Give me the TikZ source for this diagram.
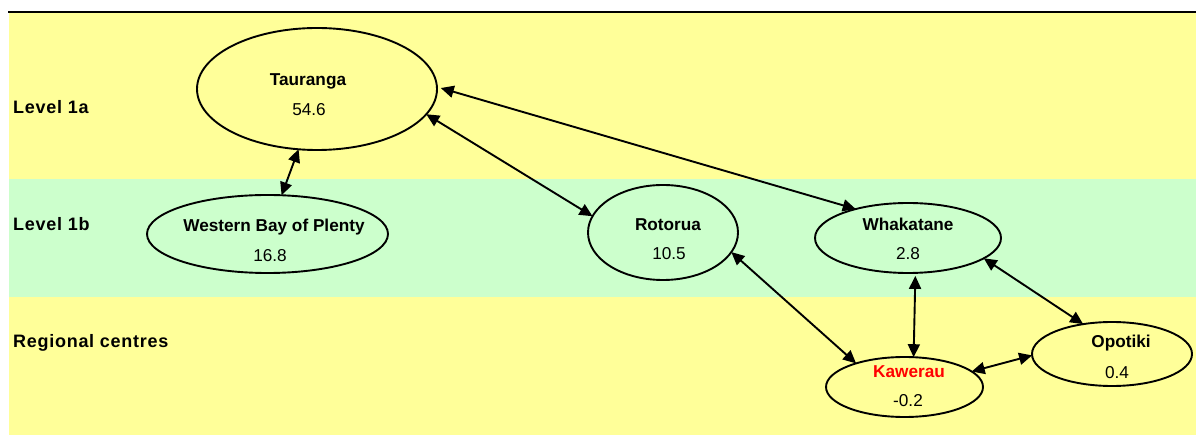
\documentclass[tikz,border=0pt]{standalone}
\usepackage{fontspec}
\setmainfont{Liberation Sans}
\usetikzlibrary{shapes.geometric,arrows.meta}
\definecolor{bandyellow}{HTML}{FFFF99}
\definecolor{bandgreen}{HTML}{CCFFCC}
\definecolor{alertred}{HTML}{FF0000}
\begin{document}
\begin{tikzpicture}[x=1pt,y=-1pt,
  city/.style={ellipse,draw=black,line width=1.9pt,inner sep=0pt,outer sep=0pt},
  cityname/.style={anchor=base,inner sep=0pt,font=\fontsize{17.2}{20}\selectfont\bfseries},
  cityvalue/.style={anchor=base,inner sep=0pt,font=\fontsize{17.2}{20}\selectfont},
  levellabel/.style={anchor=base west,inner sep=0pt,
    font=\fontsize{18}{20}\selectfont\bfseries\addfontfeature{LetterSpace=4}},
  link/.style={line width=1.9pt,{Triangle[length=13pt,width=12pt]}-{Triangle[length=13pt,width=12pt]}}
]
\useasboundingbox (0,0) rectangle (1196,435);
\fill[white] (0,0) rectangle (1196,435);

% level bands
\fill[bandyellow] (9,13) rectangle (1196,435);
\fill[bandgreen] (9,179) rectangle (1196,297);
\draw[line width=2pt] (8,12) -- (1196,12);

% band titles
\node[levellabel] (l1a) at (13,114) {Level 1a};
\node[levellabel] (l1b) at (13,231) {Level 1b};
\node[levellabel] (lrc) at (13,348) {Regional centres};

% centres
\node[city,fill=bandyellow,minimum width=240pt,minimum height=122pt] (tau) at (317,89) {};
\node[city,fill=bandgreen,minimum width=241pt,minimum height=78pt] (wbop) at (267.5,234) {};
\node[city,fill=bandgreen,minimum width=150pt,minimum height=95pt] (rot) at (663,232.5) {};
\node[city,fill=bandgreen,minimum width=186pt,minimum height=70pt] (wha) at (908,238) {};
\node[city,fill=bandyellow,minimum width=160pt,minimum height=64pt] (opo) at (1112,354) {};
\node[city,fill=bandyellow,minimum width=157pt,minimum height=60pt] (kaw) at (904.5,387) {};

\node[cityname] at (308,86) {Tauranga};
\node[cityvalue] at (309,116) {54.6};
\node[cityname] at (274,232) {Western Bay of Plenty};
\node[cityvalue] at (270,262) {16.8};
\node[cityname] at (668,231) {Rotorua};
\node[cityvalue] at (669,260) {10.5};
\node[cityname] at (908,231) {Whakatane};
\node[cityvalue] at (908,260) {2.8};
\node[cityname] at (1121,348) {Opotiki};
\node[cityvalue] at (1117,378) {0.4};
\node[cityname,text=alertred] at (909,377) {Kawerau};
\node[cityvalue] at (908,406) {-0.2};

% links between centres
\draw[link] (tau.253) -- (wbop.70.5);
\draw[link] (tau.-13.4) -- (rot.167.5);
\draw[link,shorten <=4pt] (tau.1) -- (wha.151.2);
\draw[link] (rot.-16.3) -- (kaw.154.2);
\draw[link,shorten <=3pt] (wha.-78.4) -- (kaw.73.5);
\draw[link] (wha.-15.5) -- (opo.134);
\draw[link] (kaw.13.3) -- (opo.181);
\end{tikzpicture}
\end{document}
